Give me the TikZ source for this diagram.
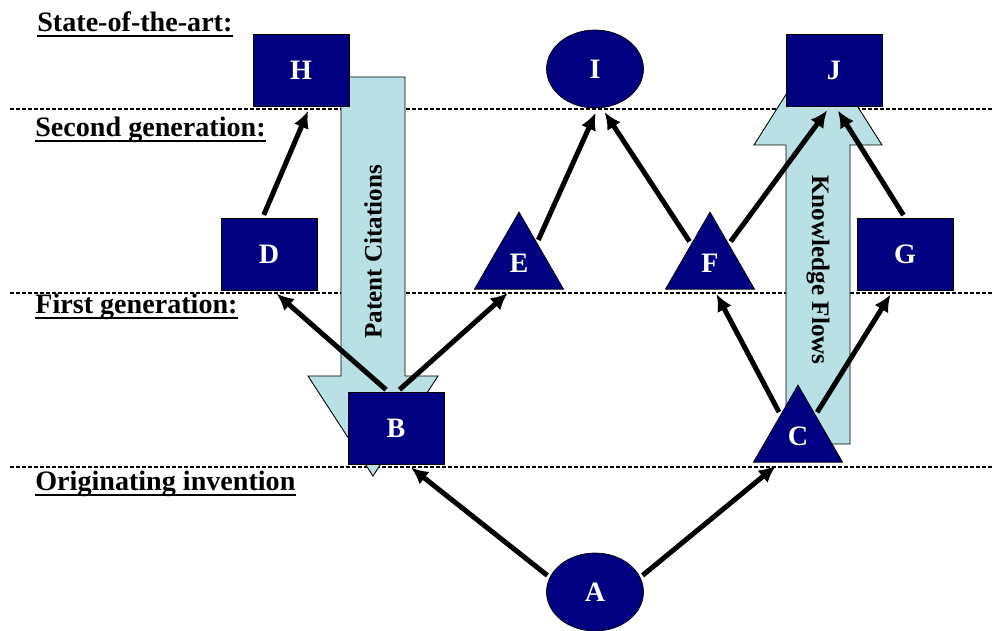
\documentclass[tikz,border=0pt]{standalone}
\usepackage{fontspec}
\setmainfont{Liberation Serif}
\usepackage{tikz}
\usetikzlibrary{shapes.geometric}
\usetikzlibrary{arrows.meta}

\definecolor{navy}{RGB}{0,0,128}
\definecolor{flowblue}{RGB}{185,224,228}

\begin{document}
\begin{tikzpicture}[x=0.02cm,y=-0.02cm,
  box/.style={draw, fill=navy, minimum width=1.92cm, minimum height=1.44cm, inner sep=0pt, text=white, font=\bfseries\fontsize{16}{19}\selectfont},
  tri/.style={box, regular polygon, regular polygon sides=3, minimum size=2.06cm},
  oval/.style={box, ellipse, minimum width=1.94cm, minimum height=1.56cm},
  gen/.style={anchor=base west, inner sep=0pt, font=\bfseries\fontsize{16}{19}\selectfont},
  uline/.style={line width=0.045cm},
  level/.style={line width=0.03cm, dash pattern=on 0.08cm off 0.04cm},
  bigarrow/.style={draw, fill=flowblue, line width=0.5pt},
  flow/.style={line width=0.1cm, -{Latex[length=0.34cm,width=0.32cm]}, shorten <=0.06cm, shorten >=0.1cm}]
  \useasboundingbox (0,0) rectangle (992,631);

  % Generation levels
  \draw[level] (10,109) -- (992,109);
  \draw[level] (10,293) -- (992,293);
  \draw[level] (10,467) -- (992,467);

  \node[gen] (st) at (37,32) {State-of-the-art:};
  \node[gen] (sg) at (35,137) {Second generation:};
  \node[gen] (fg) at (35,314) {First generation:};
  \node[gen] (oi) at (35,491) {Originating invention};
  \draw[uline] ([yshift=-0.08cm]st.base west) -- ([yshift=-0.08cm]st.base east);
  \draw[uline] ([yshift=-0.08cm]sg.base west) -- ([yshift=-0.08cm]sg.base east);
  \draw[uline] ([yshift=-0.08cm]fg.base west) -- ([yshift=-0.08cm]fg.base east);
  \draw[uline] ([yshift=-0.08cm]oi.base west) -- ([yshift=-0.08cm]oi.base east);

  % Big arrows
  \draw[bigarrow] (341,77) -- (405,77) -- (405,376) -- (438,376) -- (373,476)
    -- (308,376) -- (341,376) -- cycle;
  \node[rotate=90, font=\bfseries\fontsize{14.3}{17}\selectfont] (pc) at (373,252) {Patent Citations};
  \draw[bigarrow] (786,444) -- (850,444) -- (850,145) -- (882,145) -- (818,44)
    -- (754,145) -- (786,145) -- cycle;
  \node[rotate=-90, font=\bfseries\fontsize{14.3}{17}\selectfont] (kf) at (818,270) {Knowledge Flows};

  % Patents
  \node[box] (H) at (301,70) {H};
  \node[oval] (I) at (595,69) {I};
  \node[box] (J) at (834,70) {J};
  \node[box] (D) at (269,254) {D};
  \node[tri] (E) at (519,263.5) {E};
  \node[tri] (F) at (710,263.5) {F};
  \node[box] (G) at (905,254) {G};
  \node[box] (B) at (396,428) {B};
  \node[tri] (C) at (798,436.5) {C};
  \node[oval] (A) at (595,592) {A};

  % Citations
  \draw[flow] (D.100) -- (H.-76);
  \draw[flow] (B.102) -- (D.-84);
  \draw[flow] (B.88) -- (E.-106);
  \draw[flow] (E.49) -- (I.-86);
  \draw[flow] (F.134) -- (I.-80);
  \draw[flow] (F.46) -- (J.-96);
  \draw[flow] (G.north) -- (J.-88);
  \draw[flow] (C.129) -- (F.-81);
  \draw[flow] (C.51) -- (G.-108);
  \draw[flow] (A.162) -- (B.-73);
  \draw[flow] (A.18) -- (C.-125);
\end{tikzpicture}
\end{document}
